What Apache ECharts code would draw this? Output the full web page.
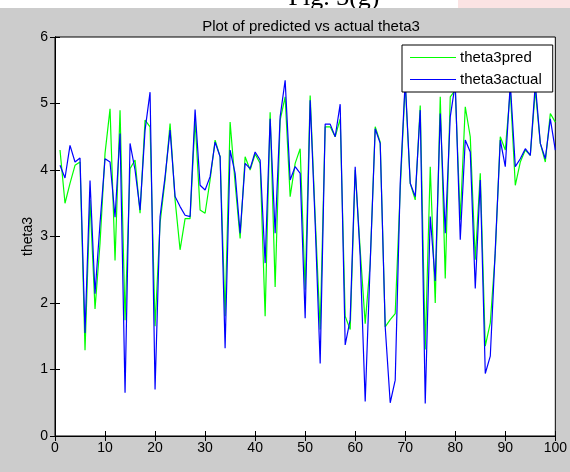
<!DOCTYPE html>
<html>
<head>
<meta charset="utf-8">
<script src="https://cdn.jsdelivr.net/npm/echarts@6/dist/echarts.min.js"></script>
<style>
html,body{margin:0;padding:0;background:#fff;}
#chart{width:570px;height:472px;}
</style>
</head>
<body>
<div id="chart"></div>
<script>
var xIndex = [];
for (var i = 1; i <= 100; i++) xIndex.push(i);

var theta3pred = [
4.3,3.5,3.8,4.07,4.12,1.29,3.55,1.91,2.9,4.25,
4.92,2.64,4.9,1.74,4.02,4.15,3.35,4.75,4.65,1.65,
3.2,3.85,4.7,3.55,2.8,3.27,3.27,4.75,3.4,3.35,
3.85,4.45,4.2,1.8,4.72,3.8,2.97,4.2,4.0,4.24,
4.1,1.8,4.87,2.24,4.75,5.1,3.6,4.1,4.32,2.2,
5.12,3.3,1.6,4.65,4.65,4.5,4.77,1.8,1.6,4.0,
2.8,1.69,2.6,4.65,4.42,1.64,1.75,1.84,3.7,5.3,
3.8,3.55,4.97,1.3,4.05,2.0,5.1,2.37,5.1,5.2,
3.25,4.95,4.5,2.65,3.95,1.35,1.7,2.75,4.5,4.3,
5.2,3.77,4.12,4.3,4.22,5.2,4.4,4.12,4.85,4.72
];

var theta3actual = [
4.07,3.88,4.37,4.12,4.18,1.55,3.84,2.14,3.2,4.17,
4.12,3.29,4.55,0.65,4.4,4.0,3.4,4.6,5.17,0.7,
3.3,3.9,4.6,3.6,3.45,3.32,3.3,4.91,3.77,3.7,
3.9,4.42,4.2,1.32,4.3,3.95,3.05,4.1,4.02,4.27,
4.15,2.6,4.77,3.05,4.8,5.35,3.85,4.05,3.95,1.77,
5.05,3.2,1.09,4.69,4.69,4.5,4.99,1.37,1.75,4.05,
2.7,0.52,2.6,4.62,4.4,1.64,0.5,0.84,3.8,5.35,
3.8,3.6,4.9,0.49,3.3,2.33,4.85,3.05,4.8,5.3,
2.95,4.45,4.27,2.22,3.85,0.94,1.2,2.8,4.45,4.05,
5.3,4.05,4.17,4.32,4.22,5.3,4.4,4.17,4.77,4.3
];

var xTicks = [0,10,20,30,40,50,60,70,80,90,100];
var yTicks = [0,1,2,3,4,5,6];

function pairs(ys){ return xIndex.map(function(x,k){ return [x, ys[k]]; }); }

var font = 'Arial, "Liberation Sans", sans-serif';
var chart = echarts.init(document.getElementById('chart'));
var axisCommon = {
  axisLine:{show:true,lineStyle:{color:'#000',width:1}},
  axisTick:{show:true,inside:true,length:5,lineStyle:{color:'#000'}},
  splitLine:{show:false}
};
chart.setOption({
  backgroundColor:'#ffffff',
  animation:false,
  graphic:[
    {type:'text', z:-30, style:{text:'Fig. 3(g)', x:334, y:11, align:'center', verticalAlign:'bottom', font:'26px "Liberation Serif", "Times New Roman", serif', fill:'#000'}},
    {type:'rect', z:-25, shape:{x:458,y:0,width:112,height:8}, style:{fill:'#fbe3e3'}},
    {type:'rect', z:-20, shape:{x:0,y:8,width:570,height:464}, style:{fill:'#cccccc'}}
  ],
  title:{
    text:'Plot of predicted vs actual theta3',
    left:306, top:14, textAlign:'center',
    textStyle:{fontFamily:font,fontSize:15,fontWeight:'normal',color:'#000'}
  },
  grid:{left:55,right:13,top:37,bottom:36,show:true,backgroundColor:'#ffffff',borderColor:'#000',borderWidth:1},
  legend:{
    orient:'vertical', left:402, top:45,
    data:[{name:'theta3pred',icon:'rect'},{name:'theta3actual',icon:'rect'}],
    itemWidth:46, itemHeight:1, itemGap:7,
    padding:[5,11,5,8],
    backgroundColor:'#ffffff', borderColor:'#000', borderWidth:1, borderRadius:0,
    textStyle:{fontFamily:font,fontSize:15,color:'#000',padding:[0,0,0,-1]}
  },
  xAxis:[
    Object.assign({type:'value',min:0,max:100,interval:10,position:'bottom',
      axisLabel:{color:'#000',fontFamily:font,fontSize:14,margin:5,
        formatter:function(v){ return xTicks.indexOf(v)>=0 ? String(v) : ''; }}}, axisCommon),
    Object.assign({type:'value',min:0,max:100,interval:10,position:'top',axisLabel:{show:false}}, axisCommon)
  ],
  yAxis:[
    Object.assign({type:'value',min:0,max:6,interval:1,position:'left',
      name:'theta3', nameLocation:'middle', nameGap:20, nameRotate:90, nameMoveOverlap:false,
      nameTextStyle:{color:'#000',fontFamily:font,fontSize:14},
      axisLabel:{color:'#000',fontFamily:font,fontSize:14,margin:7,
        formatter:function(v){ return yTicks.indexOf(v)>=0 ? String(v) : ''; }}}, axisCommon),
    Object.assign({type:'value',min:0,max:6,interval:1,position:'right',axisLabel:{show:false}}, axisCommon)
  ],
  series:[
    {name:'theta3pred',type:'line',data:pairs(theta3pred),symbol:'none',
      lineStyle:{color:'#00ff00',width:1.2},itemStyle:{color:'#00ff00'},z:2},
    {name:'theta3actual',type:'line',data:pairs(theta3actual),symbol:'none',
      lineStyle:{color:'#0000ff',width:1.2},itemStyle:{color:'#0000ff'},z:3}
  ]
});
</script>
</body>
</html>
